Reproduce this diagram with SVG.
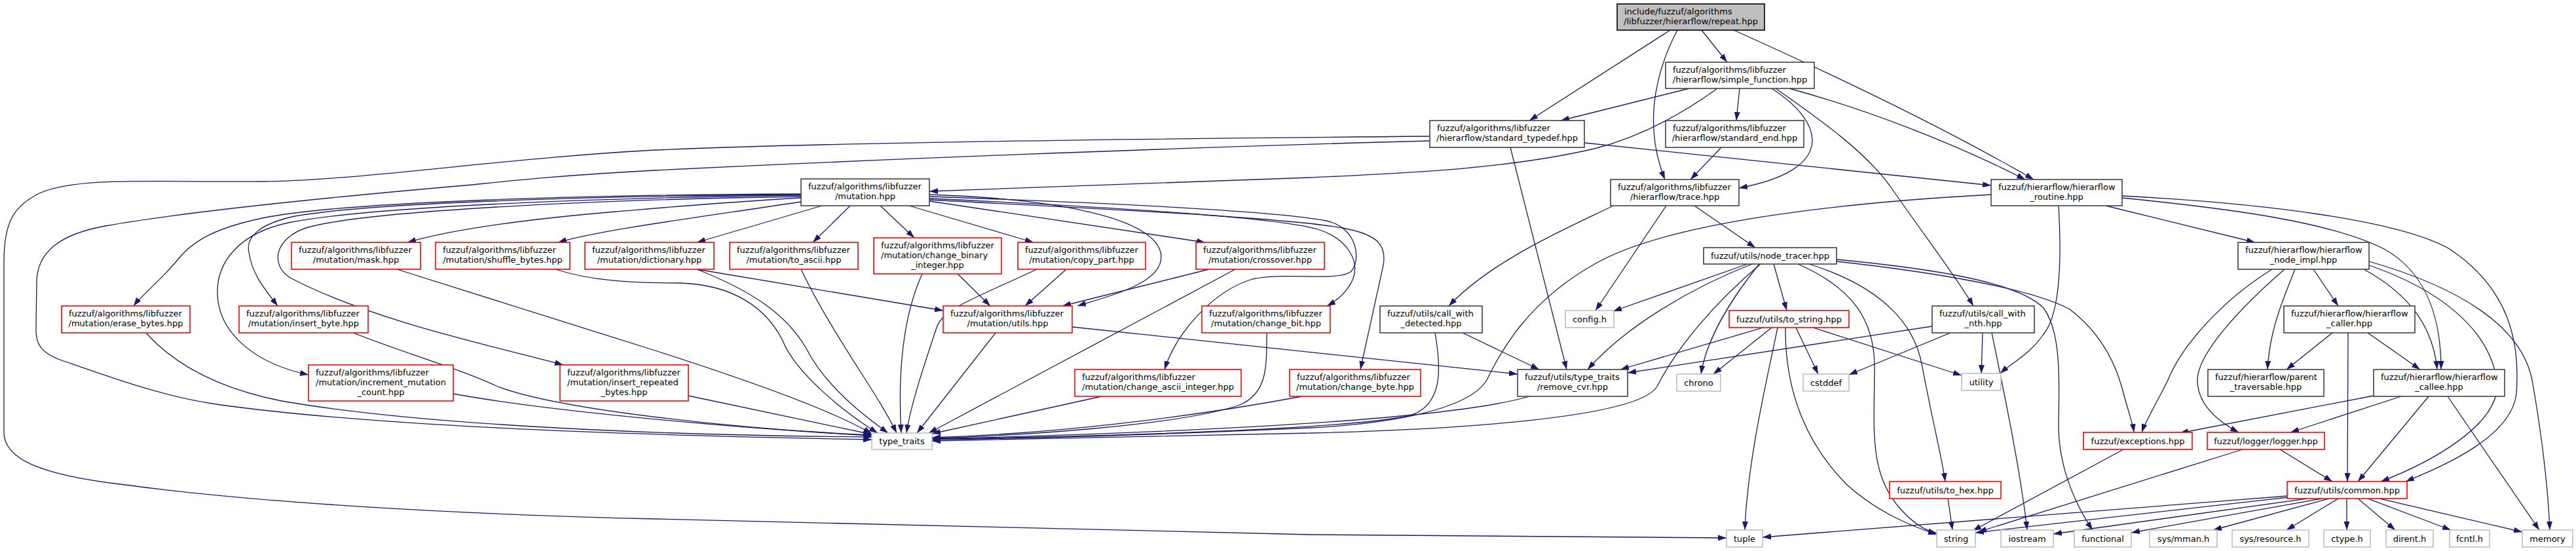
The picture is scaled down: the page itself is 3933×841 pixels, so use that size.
<svg xmlns="http://www.w3.org/2000/svg" width="3933" height="841" viewBox="0 0 3933 841">
<style>
.n rect{fill:#fff;stroke-width:1.6}
.k rect{stroke:#404040}
.r rect{stroke:#ff0000}
.g rect{stroke:#bfbfbf}
.root rect{fill:#bfbfbf;stroke:#000}
text{font-family:"DejaVu Sans",sans-serif;font-size:13px;fill:#000}
.m{text-anchor:middle}
#edges path{fill:none;stroke:#191970;stroke-width:1.3;marker-end:url(#a)}
</style>
<defs>
<marker id="a" markerUnits="userSpaceOnUse" markerWidth="13" markerHeight="9" refX="13" refY="4.5" orient="auto"><path d="M0,0 L13,4.5 L0,9 z" fill="#191970"/></marker>
</defs>
<rect width="3933" height="841" fill="#fff"/>
<g id="edges">
<path d="M2550,46 L2335,184"/>
<path d="M2561,46 C2522,120 2512,200 2542,274"/>
<path d="M2598,46 L2637,95"/>
<path d="M2647,46 C2790,110 2960,190 3105,274"/>
<path d="M2579,135 L2383,184"/>
<path d="M2622,135 C2560,180 2500,210 2434,227 C2300,258 2150,264 2000,271 C1800,280 1600,287 1419,292"/>
<path d="M2656,135 L2651,184"/>
<path d="M2705,135 C2790,190 2800,260 2655,287"/>
<path d="M2711,135 C2790,190 2850,235 2885,283 C2935,355 2985,420 3013,467"/>
<path d="M2732,135 C2860,170 2990,222 3092,274"/>
<path d="M2419,218 L3040,283"/>
<path d="M2306,225 L2392,564"/>
<path d="M2183,208 C1700,212 1250,218 1000,229 C760,242 560,275 400,277 C250,279 120,268 60,295 C20,315 6,340 6,400 L6,660 C6,700 60,725 191,740 C400,768 700,785 1000,792 C1400,802 1800,812 2000,816 L2636,821"/>
<path d="M2183,215 C1800,225 1300,245 1000,260 C850,268 780,276 721,282 C560,296 300,320 160,345 C90,358 57,385 56,430 L55,500 C54,525 62,540 100,552 C180,580 250,605 330,617 C550,648 900,663 1331,671"/>
<path d="M1223,302 C1100,309 1000,318 940,323 C800,335 690,350 622,370"/>
<path d="M1223,308 C1080,330 920,350 852,370"/>
<path d="M1223,296 C900,297 520,308 400,333 C320,350 290,372 270,398 C245,428 215,452 204,467"/>
<path d="M1223,297 C900,299 560,310 450,330 C395,342 375,362 380,385 C385,420 405,442 424,467"/>
<path d="M1223,298 C900,302 560,316 440,340 C365,356 330,400 332,450 C335,510 390,555 471,572"/>
<path d="M1223,300 C900,305 560,322 470,347 C420,362 410,405 445,425 C570,490 760,530 860,557"/>
<path d="M1255,314 L1064,370"/>
<path d="M1298,314 L1241,370"/>
<path d="M1344,314 L1396,363"/>
<path d="M1388,314 L1578,370"/>
<path d="M1419,307 L1840,370"/>
<path d="M1419,297 C1650,305 1760,340 1772,385 C1782,430 1700,450 1645,467"/>
<path d="M1419,300 C1700,310 1950,322 2025,337 C2075,348 2078,400 2062,415 C2040,430 1960,415 1912,426 C1850,445 1795,510 1778,564"/>
<path d="M1419,303 C1700,316 1950,332 2012,350 C2060,365 2075,400 2066,425 C2058,445 2042,458 2026,467"/>
<path d="M1419,305 C1700,320 1960,332 2050,348 C2105,358 2117,375 2112,405 L2077,564"/>
<path d="M1064,411 L1440,474"/>
<path d="M1064,411 C1150,445 1200,480 1230,530 C1260,590 1320,635 1356,661"/>
<path d="M606,411 L1000,535 C1100,567 1260,620 1331,662"/>
<path d="M848,411 C900,428 960,432 1040,432 C1120,435 1170,470 1195,520 C1215,570 1290,630 1340,661"/>
<path d="M1223,411 C1270,510 1340,600 1369,661"/>
<path d="M1408,418 C1380,480 1370,560 1376,661"/>
<path d="M1462,418 L1512,467"/>
<path d="M1628,411 L1565,467"/>
<path d="M1583,411 C1490,455 1440,470 1430,500 C1410,560 1390,620 1384,661"/>
<path d="M1846,411 L1622,467"/>
<path d="M1886,411 L1418,661"/>
<path d="M1520,508 L1400,661"/>
<path d="M1637,499 L2317,571"/>
<path d="M1934,508 C1934,560 1935,600 1893,618 C1800,650 1550,665 1423,669"/>
<path d="M223,508 C265,555 330,592 430,612 C620,645 950,664 1331,667"/>
<path d="M539,508 C620,540 700,562 760,590 C860,628 1150,656 1331,664"/>
<path d="M692,601 C850,630 1150,655 1331,665"/>
<path d="M1051,604 L1331,663"/>
<path d="M1682,605 L1423,662"/>
<path d="M1988,605 C1800,640 1600,662 1423,668"/>
<path d="M2463,314 C2400,345 2280,395 2212,467"/>
<path d="M2544,314 L2436,474"/>
<path d="M2587,314 L2680,378"/>
<path d="M3040,297 C2800,310 2550,340 2440,400 C2330,460 2290,540 2270,580 C2240,630 2100,648 2000,653 C1800,662 1600,669 1423,671"/>
<path d="M3143,314 C3148,400 3145,480 3120,510 C3100,540 3070,555 3054,570"/>
<path d="M3215,314 L3443,370"/>
<path d="M3240,302 C3420,320 3560,340 3640,380 C3712,420 3727,500 3727,564"/>
<path d="M3240,299 C3450,310 3660,335 3740,380 C3830,440 3848,520 3842,600 C3835,670 3720,715 3673,735"/>
<path d="M2668,403 L2463,475"/>
<path d="M2675,403 C2580,440 2480,500 2424,564"/>
<path d="M2686,403 C2640,460 2605,520 2597,571"/>
<path d="M2688,403 C2620,460 2560,530 2530,590 C2500,640 2200,656 2000,661 C1800,666 1600,671 1423,673"/>
<path d="M2708,403 L2728,474"/>
<path d="M2745,403 C2830,440 2862,490 2862,560 C2862,650 2852,720 2900,775 C2920,798 2940,810 2957,814"/>
<path d="M2762,403 C2880,440 2925,500 2935,560 C2950,640 2965,700 2970,735"/>
<path d="M2804,396 C2950,410 3080,430 3120,470 C3150,510 3143,600 3143,650 C3143,720 3175,780 3195,809"/>
<path d="M2804,399 C2950,415 3100,440 3160,472 C3210,510 3232,560 3242,600 C3250,630 3256,645 3258,660"/>
<path d="M2692,500 L2474,564"/>
<path d="M2705,500 L2616,571"/>
<path d="M2714,500 C2700,570 2668,700 2664,809"/>
<path d="M2726,500 C2725,600 2760,680 2820,740 C2870,785 2925,805 2957,816"/>
<path d="M2742,500 L2776,571"/>
<path d="M2768,500 L2995,573"/>
<path d="M2950,498 L2485,569"/>
<path d="M2978,508 L2823,572"/>
<path d="M3027,508 L3025,570"/>
<path d="M3041,508 C3060,600 3085,720 3095,809"/>
<path d="M2191,508 C2200,560 2205,620 2150,635 C2050,655 1700,666 1423,670"/>
<path d="M2233,508 L2350,564"/>
<path d="M2335,605 C2250,630 2000,655 1423,670"/>
<path d="M2628,225 L2581,274"/>
<path d="M3469,411 C3390,460 3330,530 3310,580 C3290,620 3275,645 3270,660"/>
<path d="M3488,411 C3420,470 3355,540 3355,580 C3355,620 3390,645 3418,660"/>
<path d="M3504,411 C3480,470 3465,510 3462,564"/>
<path d="M3532,411 L3570,467"/>
<path d="M3609,411 C3680,450 3715,500 3721,564"/>
<path d="M3617,405 C3720,440 3800,500 3812,580 C3822,650 3700,710 3635,735"/>
<path d="M3617,399 C3760,440 3850,500 3866,580 C3880,660 3890,740 3893,809"/>
<path d="M3561,508 L3491,564"/>
<path d="M3585,508 L3584,735"/>
<path d="M3615,508 L3695,564"/>
<path d="M3624,604 L3328,661"/>
<path d="M3666,605 L3497,660"/>
<path d="M3708,605 L3600,735"/>
<path d="M3737,605 L3877,809"/>
<path d="M3242,686 L3012,810"/>
<path d="M3424,686 L3020,812"/>
<path d="M3481,686 L3561,735"/>
<path d="M2974,761 L2981,809"/>
<path d="M3492,757 L2691,820"/>
<path d="M3494,759 L3016,813"/>
<path d="M3523,761 L3135,815"/>
<path d="M3545,761 L3254,813"/>
<path d="M3556,761 L3379,809"/>
<path d="M3570,761 L3491,809"/>
<path d="M3583,761 L3583,809"/>
<path d="M3600,761 L3657,809"/>
<path d="M3615,761 L3742,809"/>
<path d="M3633,761 L3851,812"/>
</g>
<g id="n_repeat" class="n root"><rect x="2469" y="6" width="225" height="40"/><text x="2480" y="21.5">include/fuzzuf/algorithms</text><text class="m" x="2581.5" y="36.5">/libfuzzer/hierarflow/repeat.hpp</text></g>
<g id="n_simple_function" class="n k"><rect x="2543" y="95" width="227" height="40"/><text x="2554" y="110.5">fuzzuf/algorithms/libfuzzer</text><text class="m" x="2656.5" y="125.5">/hierarflow/simple_function.hpp</text></g>
<g id="n_standard_typedef" class="n k"><rect x="2183" y="184" width="236" height="41"/><text x="2194" y="200">fuzzuf/algorithms/libfuzzer</text><text class="m" x="2301" y="215">/hierarflow/standard_typedef.hpp</text></g>
<g id="n_standard_end" class="n k"><rect x="2543" y="184" width="211" height="41"/><text x="2554" y="200">fuzzuf/algorithms/libfuzzer</text><text class="m" x="2648.5" y="215">/hierarflow/standard_end.hpp</text></g>
<g id="n_mutation" class="n k"><rect x="1223" y="273" width="196" height="41"/><text x="1234" y="289">fuzzuf/algorithms/libfuzzer</text><text class="m" x="1321" y="304">/mutation.hpp</text></g>
<g id="n_trace" class="n k"><rect x="2459" y="274" width="196" height="40"/><text x="2470" y="289.5">fuzzuf/algorithms/libfuzzer</text><text class="m" x="2557" y="304.5">/hierarflow/trace.hpp</text></g>
<g id="n_routine" class="n k"><rect x="3040" y="274" width="200" height="40"/><text x="3051" y="289.5">fuzzuf/hierarflow/hierarflow</text><text class="m" x="3140" y="304.5">_routine.hpp</text></g>
<g id="n_mask" class="n r"><rect x="445" y="370" width="197" height="41"/><text x="456" y="386">fuzzuf/algorithms/libfuzzer</text><text class="m" x="543.5" y="401">/mutation/mask.hpp</text></g>
<g id="n_shuffle_bytes" class="n r"><rect x="665" y="370" width="205" height="41"/><text x="676" y="386">fuzzuf/algorithms/libfuzzer</text><text class="m" x="767.5" y="401">/mutation/shuffle_bytes.hpp</text></g>
<g id="n_dictionary" class="n r"><rect x="893" y="370" width="197" height="41"/><text x="904" y="386">fuzzuf/algorithms/libfuzzer</text><text class="m" x="991.5" y="401">/mutation/dictionary.hpp</text></g>
<g id="n_to_ascii" class="n r"><rect x="1114" y="370" width="196" height="41"/><text x="1125" y="386">fuzzuf/algorithms/libfuzzer</text><text class="m" x="1212" y="401">/mutation/to_ascii.hpp</text></g>
<g id="n_change_binary_integer" class="n r"><rect x="1334" y="363" width="195" height="55"/><text x="1345" y="378.5">fuzzuf/algorithms/libfuzzer</text><text x="1345" y="393.5">/mutation/change_binary</text><text class="m" x="1431.5" y="408.5">_integer.hpp</text></g>
<g id="n_copy_part" class="n r"><rect x="1554" y="370" width="195" height="41"/><text x="1565" y="386">fuzzuf/algorithms/libfuzzer</text><text class="m" x="1651.5" y="401">/mutation/copy_part.hpp</text></g>
<g id="n_crossover" class="n r"><rect x="1826" y="370" width="196" height="41"/><text x="1837" y="386">fuzzuf/algorithms/libfuzzer</text><text class="m" x="1924" y="401">/mutation/crossover.hpp</text></g>
<g id="n_node_tracer" class="n k"><rect x="2601" y="378" width="203" height="25"/><text class="m" x="2702.5" y="395">fuzzuf/utils/node_tracer.hpp</text></g>
<g id="n_node_impl" class="n k"><rect x="3417" y="370" width="200" height="41"/><text x="3428" y="386">fuzzuf/hierarflow/hierarflow</text><text class="m" x="3517" y="401">_node_impl.hpp</text></g>
<g id="n_erase_bytes" class="n r"><rect x="94" y="467" width="196" height="41"/><text x="105" y="483">fuzzuf/algorithms/libfuzzer</text><text class="m" x="192" y="498">/mutation/erase_bytes.hpp</text></g>
<g id="n_insert_byte" class="n r"><rect x="365" y="467" width="197" height="41"/><text x="376" y="483">fuzzuf/algorithms/libfuzzer</text><text class="m" x="463.5" y="498">/mutation/insert_byte.hpp</text></g>
<g id="n_utils" class="n r"><rect x="1440" y="467" width="197" height="41"/><text x="1451" y="483">fuzzuf/algorithms/libfuzzer</text><text class="m" x="1538.5" y="498">/mutation/utils.hpp</text></g>
<g id="n_change_bit" class="n r"><rect x="1835" y="467" width="196" height="41"/><text x="1846" y="483">fuzzuf/algorithms/libfuzzer</text><text class="m" x="1933" y="498">/mutation/change_bit.hpp</text></g>
<g id="n_call_with_detected" class="n k"><rect x="2107" y="467" width="156" height="41"/><text x="2118" y="483">fuzzuf/utils/call_with</text><text class="m" x="2185" y="498">_detected.hpp</text></g>
<g id="n_config" class="n g"><rect x="2390" y="474" width="74" height="26"/><text class="m" x="2427" y="491.5">config.h</text></g>
<g id="n_to_string" class="n r"><rect x="2640" y="474" width="183" height="26"/><text class="m" x="2731.5" y="491.5">fuzzuf/utils/to_string.hpp</text></g>
<g id="n_call_with_nth" class="n k"><rect x="2950" y="467" width="156" height="41"/><text x="2961" y="483">fuzzuf/utils/call_with</text><text class="m" x="3028" y="498">_nth.hpp</text></g>
<g id="n_caller" class="n k"><rect x="3487" y="467" width="200" height="41"/><text x="3498" y="483">fuzzuf/hierarflow/hierarflow</text><text class="m" x="3587" y="498">_caller.hpp</text></g>
<g id="n_increment_mutation_count" class="n r"><rect x="471" y="557" width="221" height="55"/><text x="482" y="572.5">fuzzuf/algorithms/libfuzzer</text><text x="482" y="587.5">/mutation/increment_mutation</text><text class="m" x="581.5" y="602.5">_count.hpp</text></g>
<g id="n_insert_repeated_bytes" class="n r"><rect x="855" y="557" width="196" height="55"/><text x="866" y="572.5">fuzzuf/algorithms/libfuzzer</text><text x="866" y="587.5">/mutation/insert_repeated</text><text class="m" x="953" y="602.5">_bytes.hpp</text></g>
<g id="n_change_ascii_integer" class="n r"><rect x="1641" y="564" width="254" height="41"/><text x="1652" y="580">fuzzuf/algorithms/libfuzzer</text><text class="m" x="1768" y="595">/mutation/change_ascii_integer.hpp</text></g>
<g id="n_change_byte" class="n r"><rect x="1969" y="564" width="200" height="41"/><text x="1980" y="580">fuzzuf/algorithms/libfuzzer</text><text class="m" x="2069" y="595">/mutation/change_byte.hpp</text></g>
<g id="n_remove_cvr" class="n k"><rect x="2317" y="564" width="168" height="41"/><text x="2328" y="580">fuzzuf/utils/type_traits</text><text class="m" x="2401" y="595">/remove_cvr.hpp</text></g>
<g id="n_chrono" class="n g"><rect x="2560" y="571" width="67" height="26"/><text class="m" x="2593.5" y="588.5">chrono</text></g>
<g id="n_cstddef" class="n g"><rect x="2753" y="571" width="70" height="26"/><text class="m" x="2788" y="588.5">cstddef</text></g>
<g id="n_utility" class="n g"><rect x="2995" y="570" width="60" height="26"/><text class="m" x="3025" y="587.5">utility</text></g>
<g id="n_parent_traversable" class="n k"><rect x="3371" y="564" width="177" height="41"/><text x="3382" y="580">fuzzuf/hierarflow/parent</text><text class="m" x="3459.5" y="595">_traversable.hpp</text></g>
<g id="n_callee" class="n k"><rect x="3624" y="564" width="200" height="41"/><text x="3635" y="580">fuzzuf/hierarflow/hierarflow</text><text class="m" x="3724" y="595">_callee.hpp</text></g>
<g id="n_type_traits" class="n g"><rect x="1331" y="661" width="92" height="25"/><text class="m" x="1377" y="678">type_traits</text></g>
<g id="n_exceptions" class="n r"><rect x="3181" y="660" width="166" height="26"/><text class="m" x="3264" y="677.5">fuzzuf/exceptions.hpp</text></g>
<g id="n_logger" class="n r"><rect x="3370" y="660" width="179" height="26"/><text class="m" x="3459.5" y="677.5">fuzzuf/logger/logger.hpp</text></g>
<g id="n_to_hex" class="n r"><rect x="2885" y="735" width="170" height="26"/><text class="m" x="2970" y="752.5">fuzzuf/utils/to_hex.hpp</text></g>
<g id="n_common" class="n r"><rect x="3492" y="735" width="183" height="26"/><text class="m" x="3583.5" y="752.5">fuzzuf/utils/common.hpp</text></g>
<g id="n_tuple" class="n g"><rect x="2636" y="809" width="55" height="26"/><text class="m" x="2663.5" y="826.5">tuple</text></g>
<g id="n_string" class="n g"><rect x="2957" y="809" width="59" height="26"/><text class="m" x="2986.5" y="826.5">string</text></g>
<g id="n_iostream" class="n g"><rect x="3055" y="809" width="80" height="26"/><text class="m" x="3095" y="826.5">iostream</text></g>
<g id="n_functional" class="n g"><rect x="3167" y="809" width="87" height="26"/><text class="m" x="3210.5" y="826.5">functional</text></g>
<g id="n_sys_mman" class="n g"><rect x="3282" y="809" width="103" height="26"/><text class="m" x="3333.5" y="826.5">sys/mman.h</text></g>
<g id="n_sys_resource" class="n g"><rect x="3408" y="809" width="117" height="26"/><text class="m" x="3466.5" y="826.5">sys/resource.h</text></g>
<g id="n_ctype" class="n g"><rect x="3548" y="809" width="71" height="26"/><text class="m" x="3583.5" y="826.5">ctype.h</text></g>
<g id="n_dirent" class="n g"><rect x="3643" y="809" width="72" height="26"/><text class="m" x="3679" y="826.5">dirent.h</text></g>
<g id="n_fcntl" class="n g"><rect x="3740" y="809" width="61" height="26"/><text class="m" x="3770.5" y="826.5">fcntl.h</text></g>
<g id="n_memory" class="n g"><rect x="3851" y="809" width="77" height="26"/><text class="m" x="3889.5" y="826.5">memory</text></g>
</svg>
